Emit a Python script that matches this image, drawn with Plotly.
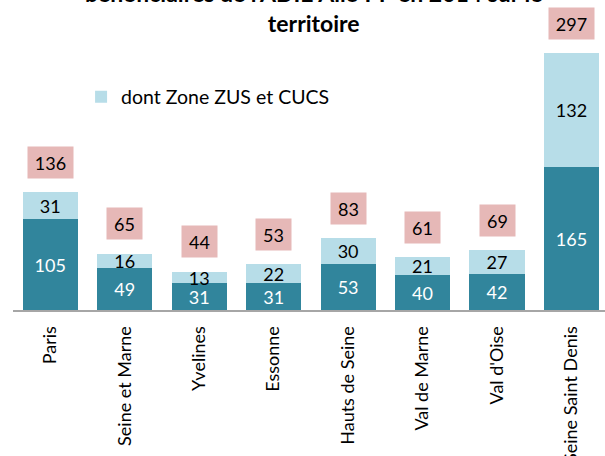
import plotly.graph_objects as go

departements = ["Paris", "Seine et Marne", "Yvelines", "Essonne", "Hauts de Seine",
                "Val de Marne", "Val d'Oise", "Seine Saint Denis"]
hors_zone = [105, 49, 31, 31, 53, 40, 42, 165]
zone_zus_cucs = [31, 16, 13, 22, 30, 21, 27, 132]
totaux = [136, 65, 44, 53, 83, 61, 69, 297]

FONT = "Lato"
DARK = "#31859c"
LIGHT = "#b7dde8"
PINK = "#e6b8b7"

fig = go.Figure()
fig.add_trace(go.Bar(
    x=departements, y=hors_zone, name="hors zone", showlegend=False,
    marker=dict(color=DARK, line=dict(width=0)),
    text=[str(v) for v in hors_zone], textposition="inside", insidetextanchor="middle",
    textangle=0, constraintext="none", textfont=dict(family=FONT, size=18, color="white"),
))
fig.add_trace(go.Bar(
    x=departements, y=zone_zus_cucs, name="dont Zone ZUS et CUCS",
    marker=dict(color=LIGHT, line=dict(width=0)),
    text=[str(v) for v in zone_zus_cucs], textposition="inside", insidetextanchor="middle",
    textangle=0, constraintext="none", textfont=dict(family=FONT, size=18, color="black"),
))

for d, t in zip(departements, totaux):
    fig.add_annotation(
        x=d, y=t, xref="x", yref="y", text=str(t), showarrow=False,
        yshift=30, yanchor="middle", bgcolor=PINK, borderpad=0,
        width=15 + 10 * len(str(t)), height=31,
        font=dict(family=FONT, size=18, color="black"),
    )

fig.add_annotation(
    text="<b>bénéficiaires de l'ADIE Allo PP en 2014 sur le<br>territoire</b>",
    xref="paper", yref="paper", x=0.508, y=0.9918, xanchor="center", yanchor="middle",
    showarrow=False, font=dict(family=FONT, size=23, color="black"),
)

fig.update_layout(
    width=605, height=456,
    margin=dict(l=13, r=0, t=5, b=146, autoexpand=False),
    barmode="stack", bargap=0.26,
    plot_bgcolor="white", paper_bgcolor="white",
    font=dict(family=FONT, color="black"),
    legend=dict(
        x=0.115, y=0.698, xanchor="left", yanchor="middle",
        font=dict(family=FONT, size=19.5, color="black"),
        bgcolor="rgba(0,0,0,0)", itemwidth=30,
    ),
    xaxis=dict(
        type="category", range=[-0.5, 7.45], tickangle=-90, automargin=False,
        showline=True, linecolor="#a6a6a6", linewidth=2,
        ticks="", showgrid=False, ticklabelstandoff=7,
        tickfont=dict(family=FONT, size=18, color="black"),
    ),
    yaxis=dict(range=[0, 352.6], visible=False, showgrid=False, automargin=False),
)

fig.write_html("out.html", config={"displayModeBar": False},
               post_script="document.body.style.margin='0';")
